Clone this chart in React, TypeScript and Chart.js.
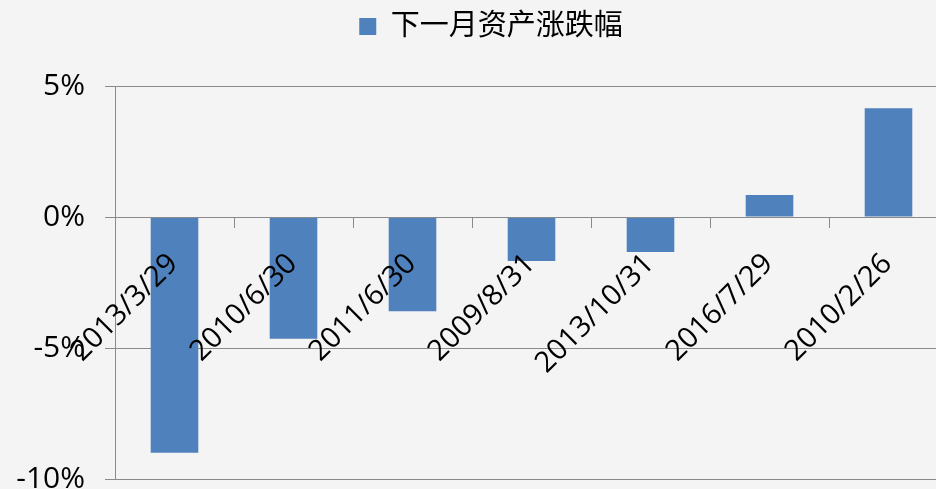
import React, { useEffect, useRef } from "react";
import { Chart, registerables } from "chart.js";
Chart.register(...registerables);

const categories = ["2013/3/29", "2010/6/30", "2011/6/30", "2009/8/31", "2013/10/31", "2016/7/29", "2010/2/26"];
const seriesName = "下一月资产涨跌幅";
const values = [-9.0, -4.65, -3.6, -1.68, -1.34, 0.84, 4.15];
const yMin = -10;
const yMax = 5;
const yStep = 5;

const FONT = '"Open Sans", "Noto Sans CJK SC", sans-serif';
const GRID = "#8a8a8a";
const BAR = "#4f81bd";

export default function App() {
  const ref = useRef<HTMLCanvasElement | null>(null);
  useEffect(() => {
    if (!ref.current) return;
    const shiftLegend = {
      id: "shiftLegend",
      afterLayout(chart: any) {
        if (chart.legend) {
          chart.legend.left += 17;
          chart.legend.right += 17;
          chart.legend.top -= 35;
          chart.legend.bottom -= 35;
        }
      },
    };
    const chart = new Chart(ref.current, {
      type: "bar",
      data: {
        labels: categories,
        datasets: [
          {
            label: seriesName,
            data: values,
            backgroundColor: BAR,
            borderWidth: 0,
            barPercentage: 0.4,
            categoryPercentage: 1,
          },
        ],
      },
      plugins: [shiftLegend],
      options: {
        responsive: false,
        animation: false,
        devicePixelRatio: 1,
        layout: { padding: 0 },
        plugins: {
          legend: {
            display: true,
            position: "top",
            labels: {
              boxWidth: 17,
              boxHeight: 17,
              padding: 12,
              color: "#000",
              font: { family: FONT, size: 29 },
            },
          },
          tooltip: { enabled: false },
        },
        scales: {
          x: {
            position: { y: 0 } as any,
            grid: {
              drawOnChartArea: false,
              drawTicks: true,
              tickLength: 10,
              offset: true,
              color: GRID,
              z: 1,
            },
            border: { display: true, color: GRID, width: 1, z: 1 },
            ticks: {
              autoSkip: false,
              maxRotation: 45,
              minRotation: 45,
              padding: 20,
              labelOffset: -1,
              z: 2,
              color: "#000",
              font: { family: FONT, size: 29 },
            },
            afterFit(scale: any) {
              scale.paddingLeft = 0;
              scale.paddingRight = 0;
              scale.paddingTop = 0;
              scale.paddingBottom = 0;
            },
          },
          y: {
            min: yMin,
            max: yMax,
            ticks: {
              stepSize: yStep,
              padding: 20,
              color: "#000",
              font: { family: FONT, size: 30 },
              callback: (v: any) => `${v}%`,
            },
            grid: {
              color: GRID,
              drawTicks: true,
              tickLength: 10,
              lineWidth: 1,
            },
            border: { display: true, color: GRID, width: 1 },
            afterFit(scale: any) {
              scale.width = 115;
              scale.paddingTop = 86;
              scale.paddingBottom = 10;
            },
          },
        },
      },
    });
    return () => chart.destroy();
  }, []);
  return (
    <div style={{ position: "absolute", left: 0, top: 0, width: 936, height: 489, overflow: "hidden", background: "#f4f4f4" }}>
      <canvas ref={ref} width={948} height={489} style={{ display: "block" }} />
    </div>
  );
}
